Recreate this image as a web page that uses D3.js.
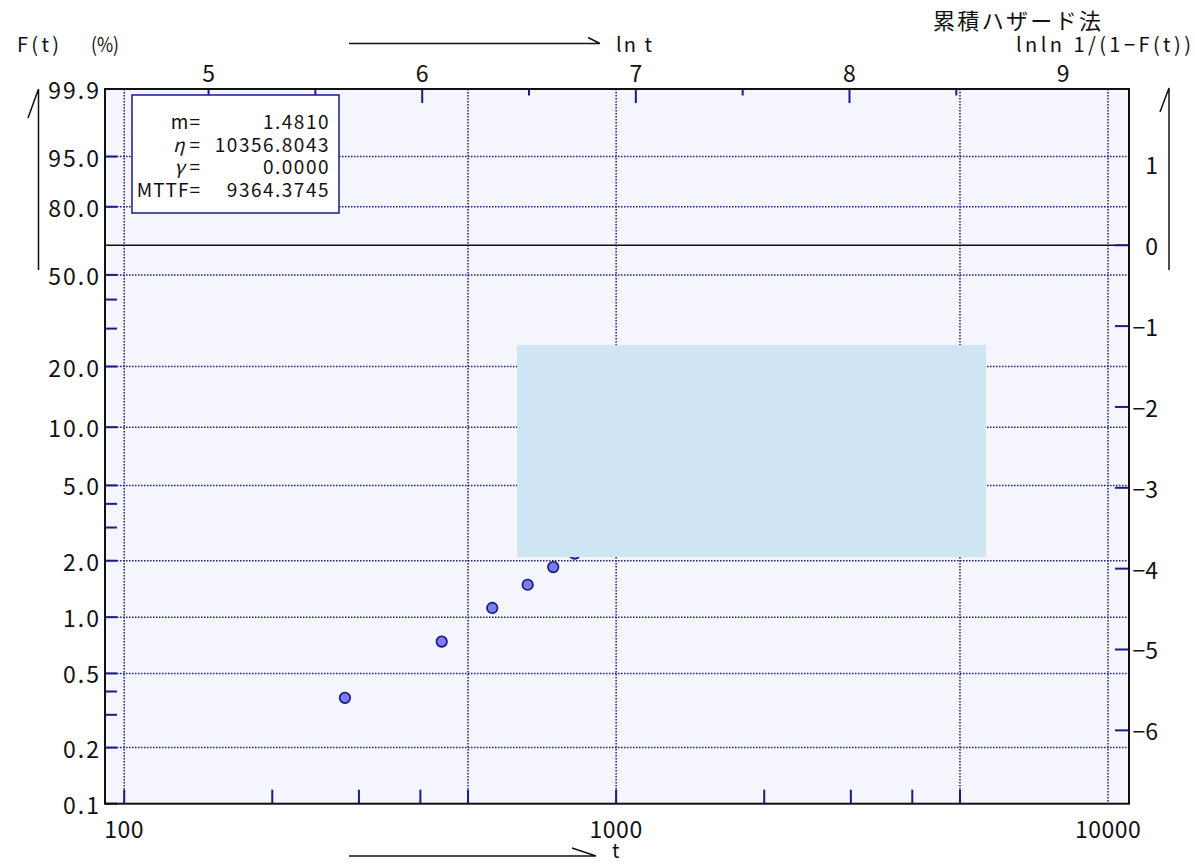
<!DOCTYPE html>
<html><head><meta charset="utf-8">
<script src="https://cdn.jsdelivr.net/npm/d3@7"></script>
<style>
html,body{margin:0;background:#fff}
svg{display:block}
text{font-family:"Noto Sans CJK JP","Noto Sans",sans-serif;fill:#111}
</style>
</head><body>
<svg id="chart" width="1195" height="865"></svg>
<script>
// Failure times (h) and their cumulative-hazard plotting positions F(t), in %
const times   = [281, 442, 560, 661, 745, 824];
const failPct = [0.37, 0.74, 1.12, 1.49, 1.85, 2.18];

// Weibull parameter summary
const paramLabels = ["m", "η", "γ", "MTTF"];
const paramValues = ["1.4810", "10356.8043", "0.0000", "9364.3745"];

// Axis ticks
const fMajor = [99.9, 95, 80, 50, 20, 10, 5, 2, 1, 0.5, 0.2, 0.1];
const fMinor = [40, 30, 4, 3, 0.4, 0.3];
const fGrid  = [95, 80, 50, 20, 10, 5, 2, 1, 0.5, 0.2];
const tTicks = [100, 200, 300, 400, 500, 1000, 2000, 3000, 4000, 5000];
const tGrid  = [100, 500, 1000, 5000, 10000];
const tLabels = [100, 1000, 10000];
const lnTicks = [5, 5.5, 6, 6.5, 7, 7.5, 8, 8.5];
const lnLabels = [5, 6, 7, 8, 9];
const lnlnTicks = [0, -1, -2, -3, -4, -5, -6];
const lnlnLabels = [1, 0, -1, -2, -3, -4, -5, -6];

// Frame of the probability paper
const L = 105, R = 1129, T = 89, B = 803.7;
const tDomain = [91.4, 11030];

const NAVY = "#1a1a8c";
const svg = d3.select("#chart");

const lnln = F => Math.log(-Math.log(1 - F));
const x = d3.scaleLog().domain(tDomain).range([L, R]);
const xLn = d3.scaleLinear().domain(tDomain.map(Math.log)).range([L, R]);
const y = d3.scaleLinear().domain([lnln(0.001), lnln(0.999)]).range([B, T]);
const yF = p => y(lnln(p / 100));

// plot background
svg.append("rect").attr("x", L).attr("y", T).attr("width", R - L).attr("height", B - T)
  .attr("fill", "#f5f5fd");

// dotted grid
const grid = svg.append("g").attr("stroke", NAVY).attr("stroke-width", 1.5)
  .attr("stroke-dasharray", "1.5 1.5").attr("fill", "none");
grid.selectAll(".gx").data(tGrid).join("line")
  .attr("x1", d => x(d)).attr("x2", d => x(d)).attr("y1", T).attr("y2", B);
grid.selectAll(".gy").data(fGrid).join("line")
  .attr("x1", L).attr("x2", R).attr("y1", d => yF(d)).attr("y2", d => yF(d));

// lnln = 0 reference line
svg.append("line").attr("x1", L).attr("x2", R).attr("y1", y(0)).attr("y2", y(0))
  .attr("stroke", "#111").attr("stroke-width", 1.5);

// ticks
const ticks = svg.append("g").attr("stroke", NAVY).attr("stroke-width", 2);
ticks.selectAll(".tl").data(fMajor.concat(fMinor)).join("line")
  .attr("x1", L).attr("x2", L + 12).attr("y1", d => yF(d)).attr("y2", d => yF(d));
ticks.selectAll(".tb").data(tTicks).join("line")
  .attr("x1", d => x(d)).attr("x2", d => x(d)).attr("y1", B).attr("y2", B - 14);
ticks.selectAll(".tt").data(lnTicks).join("line")
  .attr("x1", d => xLn(d)).attr("x2", d => xLn(d)).attr("y1", T)
  .attr("y2", d => T + (Number.isInteger(d) ? 14 : 6.5));
ticks.selectAll(".tr").data(lnlnTicks).join("line")
  .attr("x1", R - 14).attr("x2", R).attr("y1", d => y(d)).attr("y2", d => y(d));

// data points
svg.append("g").selectAll("circle").data(times).join("circle")
  .attr("cx", d => x(d)).attr("cy", (d, i) => yF(failPct[i])).attr("r", 5.3)
  .attr("fill", "#7b7bf2").attr("stroke", "#14147a").attr("stroke-width", 1.6);

// overlay panel
svg.append("rect").attr("x", 517).attr("y", 345).attr("width", 469).attr("height", 212)
  .attr("fill", "#cfe5f3");

// frame
svg.append("rect").attr("x", L).attr("y", T).attr("width", R - L).attr("height", B - T)
  .attr("fill", "none").attr("stroke", "#111").attr("stroke-width", 2);

// tick labels
const fmt1 = d3.format(".1f");
svg.append("g").attr("font-size", 23).attr("letter-spacing", 2)
  .selectAll("text").data(fMajor).join("text")
  .attr("x", 101).attr("y", d => yF(d)).attr("text-anchor", "end")
  .attr("dominant-baseline", "central").text(d => fmt1(d));
svg.append("g").attr("font-size", 23).attr("letter-spacing", 0.5)
  .selectAll("text").data(tLabels).join("text")
  .attr("x", d => x(d)).attr("y", 828).attr("text-anchor", "middle")
  .attr("dominant-baseline", "central").text(d => d);
svg.append("g").attr("font-size", 23)
  .selectAll("text").data(lnLabels).join("text")
  .attr("x", d => xLn(d)).attr("y", 72).attr("text-anchor", "middle")
  .attr("dominant-baseline", "central").text(d => d);
svg.append("g").attr("font-size", 23)
  .selectAll("text").data(lnlnLabels).join("text")
  .attr("x", 1158).attr("y", d => y(d)).attr("text-anchor", "end")
  .attr("dominant-baseline", "central")
  .text(d => d < 0 ? "\u2212" + Math.abs(d) : String(d));

// parameter box
svg.append("rect").attr("x", 132).attr("y", 95).attr("width", 207).attr("height", 118)
  .attr("fill", "#fff").attr("stroke", NAVY).attr("stroke-width", 1.5);
const rowY = [120, 143, 165, 188];
const lab = svg.append("g").attr("font-size", 19).attr("letter-spacing", 1)
  .selectAll("text").data(paramLabels).join("text")
  .attr("x", 201).attr("y", (d, i) => rowY[i]).attr("text-anchor", "end")
  .attr("dominant-baseline", "central");
lab.append("tspan").attr("font-style", (d, i) => (i === 1 || i === 2) ? "italic" : null)
  .text(d => d);
lab.append("tspan").attr("dx", (d, i) => (i === 1 || i === 2) ? 4 : 0).text("=");
svg.append("g").attr("font-size", 19).attr("letter-spacing", 1.5)
  .selectAll("text").data(paramValues).join("text")
  .attr("x", 330).attr("y", (d, i) => rowY[i]).attr("text-anchor", "end")
  .attr("dominant-baseline", "central").text(d => d);

// headings and axis direction arrows
const head = svg.append("g").attr("font-size", 20);
head.append("text").attr("x", 17).attr("y", 43).attr("dominant-baseline", "central")
  .attr("textLength", 42).attr("lengthAdjust", "spacing").text("F(t)");
head.append("text").attr("x", 91).attr("y", 43).attr("dominant-baseline", "central")
  .attr("textLength", 28).attr("lengthAdjust", "spacingAndGlyphs").text("(%)");
head.append("text").attr("x", 933).attr("y", 19).attr("dominant-baseline", "central")
  .attr("font-size", 22).attr("textLength", 168).attr("lengthAdjust", "spacing")
  .text("累積ハザード法");
head.append("text").attr("x", 1016).attr("y", 43).attr("dominant-baseline", "central")
  .attr("textLength", 175).attr("lengthAdjust", "spacing")
  .text("lnln 1/(1−F(t))");
head.append("text").attr("x", 616).attr("y", 43).attr("dominant-baseline", "central")
  .attr("textLength", 36).attr("lengthAdjust", "spacing").text("ln t");
head.append("text").attr("x", 612).attr("y", 849).attr("dominant-baseline", "central")
  .text("t");

const deco = svg.append("g").attr("stroke", "#111").attr("stroke-width", 1.5).attr("fill", "none");
deco.append("path").attr("d", "M349,43.5H600M588,37.5L600,43.5");
deco.append("path").attr("d", "M349,856H596M572,848L596,856");
deco.append("path").attr("d", "M28,118L38.5,89V270");
deco.append("path").attr("d", "M1160,112L1169,88V270");
</script>
</body></html>
